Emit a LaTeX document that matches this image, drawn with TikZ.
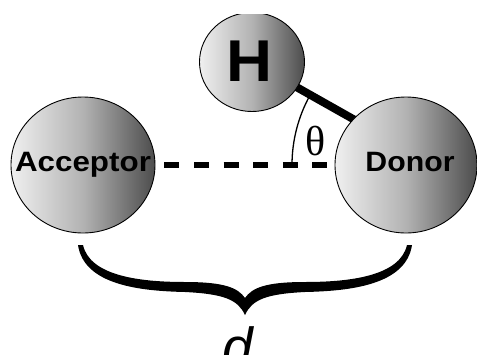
\documentclass[tikz,border=0pt]{standalone}
\usepackage{fontspec}
\usepackage{graphicx}
\setmainfont{Liberation Sans}
\newfontfamily\greekserif{Liberation Serif}
\usetikzlibrary{shapes.geometric,backgrounds}

\begin{document}
\begin{tikzpicture}[x=1pt,y=-1pt,
  atom/.style={ellipse, draw=black, line width=0.9pt, inner sep=0pt,
    left color=black!6, right color=black!70, middle color=black!30},
  atomlabel/.style={font=\bfseries\fontsize{28}{32}\selectfont, inner sep=0pt, anchor=base},
  bigatomlabel/.style={font=\bfseries\fontsize{59}{66}\selectfont, inner sep=0pt, anchor=base},
  bondline/.style={line width=8pt, black},
  hbondline/.style={line width=5.5pt, black, dash pattern=on 15pt off 14.6pt},
  anglearc/.style={line width=1.3pt, black},
  bracefill/.style={fill=black, draw=none}
]
\useasboundingbox (0,0) rectangle (477,354);
\clip (0,14) rectangle (477,354);

% atoms
\node[atom, minimum width=144pt, minimum height=136pt] (acceptor) at (83,165) {};
\node[atom, minimum width=142pt, minimum height=136pt] (donor) at (406,165) {};
\node[atom, minimum width=105pt, minimum height=99pt] (hydrogen) at (252,62) {};

% atom names
\node[atomlabel] (acceptorname) at (83,171.7) {\scalebox{1.12}[1]{Acceptor}};
\node[atomlabel] (donorname) at (410,171.7) {\scalebox{1.08}[1]{Donor}};
\node[bigatomlabel] (hname) at (249.7,81) {\scalebox{1.08}[1]{H}};

% vertex of the angle, where the bond axis meets the hydrogen-bond axis
\coordinate (vertex) at (436,165);

\begin{scope}[on background layer]
  % angle between the covalent bond and the donor--acceptor axis
  \draw[anglearc] (vertex) ++(180:144) arc[start angle=180, end angle=209, radius=144];
  % covalent H--donor bond
  \draw[bondline, shorten >=-10pt] (hydrogen.center) -- (donor.139);
\end{scope}

% hydrogen bond
\draw[hbondline] ([xshift=9pt]acceptor.east) -- ([xshift=-8pt]donor.west);

% angle label
\node[font=\greekserif\fontsize{42}{48}\selectfont, inner sep=0pt, anchor=base] (theta) at (315.5,155) {θ};

% brace spanning the two heavy atoms
\coordinate (bracetip) at (245,315);
\path[bracefill] (bracetip)
  .. controls (238,300) and (225,294) .. (185,292)
  .. controls (140,291) and (84,285) .. (78,245)
  -- (83,245)
  .. controls (90,276) and (140,282) .. (185,282)
  .. controls (225,282) and (238,288) .. (245,298)
  .. controls (252,288) and (265,282) .. (305,282)
  .. controls (350,282) and (400,276) .. (407,245)
  -- (412,245)
  .. controls (406,285) and (350,291) .. (305,292)
  .. controls (265,294) and (252,300) .. (bracetip) -- cycle;

% distance label
\node[font=\itshape\fontsize{55}{60}\selectfont, inner sep=0pt, anchor=base] (dist) at (238,366) {d};
\end{tikzpicture}
\end{document}
